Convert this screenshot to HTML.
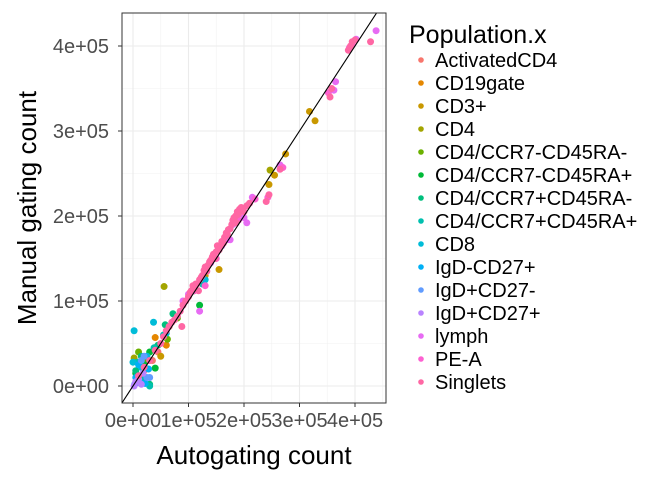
<!DOCTYPE html>
<html><head><meta charset="utf-8"><style>
body{margin:0;background:#fff}
svg{display:block;font-family:"Liberation Sans",sans-serif}
</style></head><body>
<svg id="chart" width="672" height="480">
<defs><clipPath id="pc"><rect x="122" y="13" width="264" height="390"/></clipPath></defs>
<g id="grid"></g>
<g id="marks" clip-path="url(#pc)"></g>
<rect x="122" y="13" width="264" height="390" fill="none" stroke="#333" stroke-width="1"/>
<g id="axes"></g>
<text x="254" y="464" font-size="26" text-anchor="middle" fill="#000">Autogating count</text>
<text transform="translate(36,208) rotate(-90)" font-size="26" text-anchor="middle" fill="#000">Manual gating count</text>
<g id="legend"><text x="409" y="43" font-size="25" fill="#000">Population.x</text></g>
</svg>
<script>
const populations=["ActivatedCD4","CD19gate","CD3+","CD4","CD4/CCR7-CD45RA-","CD4/CCR7-CD45RA+","CD4/CCR7+CD45RA-","CD4/CCR7+CD45RA+","CD8","IgD-CD27+","IgD+CD27-","IgD+CD27+","lymph","PE-A","Singlets"];
const colors=["#F8766D","#E58700","#C99800","#A3A500","#6BB100","#00BA38","#00BF7D","#00C0AF","#00BCD8","#00B0F6","#619CFF","#B983FF","#E76BF3","#FD61D1","#FF67A4"];
const xTicks=[0,100000,200000,300000,400000];
const yTicks=[0,100000,200000,300000,400000];
const tickLabels=["0e+00","1e+05","2e+05","3e+05","4e+05"];
// values in thousands: [autogating, manual]
const activatedCD4=[[20,18],[35,30],[45,40]];
const cd19gate=[[40,57],[60,48],[15,12]];
const cd3=[[318,323],[328,312],[275,273],[245,237],[255,248],[155,137],[50,35],[130,130]];
const cd4=[[56,117],[247,254],[110,112],[170,174],[65,70],[2,33],[30,30]];
const ccr7mRAm=[[10,40],[25,30],[40,45],[62,55],[80,80]];
const ccr7mRAp=[[120,95],[40,21],[5,15],[30,40],[20,25]];
const ccr7pRAm=[[72,85],[58,72],[15,35],[5,18],[30,2],[45,48]];
const ccr7pRAp=[[30,0],[20,8],[8,28],[38,45],[55,60],[125,120]];
const cd8=[[2,65],[37,75],[0,28],[15,22],[60,62],[25,35],[130,125]];
const igdmCd27p=[[5,10],[12,5],[22,3],[28,20],[10,25]];
const igdpCd27m=[[20,35],[25,10],[8,4],[15,30],[30,10],[3,2]];
const igdpCd27p=[[2,0],[5,5],[10,8],[15,2],[18,15]];
const lymph=[[402,408],[438,418],[365,358],[362,348],[265,260],[215,222],[200,198],[180,190],[160,165],[120,88],[90,100],[100,108],[140,145],[170,172],[205,192],[175,172]];
const peA=[[390,398],[395,402],[352,345],[270,257],[220,220],[243,222],[190,195],[110,112],[150,150],[130,118]];
const singlets=[[10,12],[20,22],[30,30],[40,42],[50,50],[55,58],[60,65],[65,70],[70,75],[75,78],[80,82],[85,88],[88,70],[90,95],[95,100],[100,105],[103,110],[105,112],[108,118],[110,115],[113,120],[115,120],[118,112],[120,125],[123,128],[125,130],[128,136],[130,140],[133,135],[135,142],[138,146],[140,148],[143,152],[145,155],[148,150],[150,158],[152,165],[155,160],[158,165],[160,170],[163,168],[165,175],[168,180],[170,178],[172,184],[175,185],[178,190],[180,195],[182,198],[185,200],[186,192],[188,205],[190,202],[192,208],[195,210],[198,206],[200,205],[205,212],[210,215],[240,217],[245,225],[265,255],[355,340],[358,350],[388,395],[392,400],[395,405],[400,407],[428,405]];
const series=[activatedCD4,cd19gate,cd3,cd4,ccr7mRAm,ccr7mRAp,ccr7pRAm,ccr7pRAp,cd8,igdmCd27p,igdpCd27m,igdpCd27p,lymph,peA,singlets];

const NS="http://www.w3.org/2000/svg";
const X=v=>133+v/100000*55.5;
const Y=v=>386-v/100000*85;
function mk(p,t,a){const e=document.createElementNS(NS,t);for(const k in a)e.setAttribute(k,a[k]);p.appendChild(e);return e;}
const grid=document.getElementById('grid'),axes=document.getElementById('axes'),marks=document.getElementById('marks'),legend=document.getElementById('legend');
mk(grid,'rect',{x:122,y:13,width:264,height:390,fill:'#fff'});
for(let i=0;i<xTicks.length;i++){
  const mx=X(xTicks[i]+50000);
  if(mx<386){const m=mk(grid,'line',{x1:mx,x2:mx,y1:13,y2:403,stroke:'#f2f2f2','stroke-width':0.6});
  
  }
  const my=Y(yTicks[i]+50000);
  if(my>13){const m=mk(grid,'line',{x1:122,x2:386,y1:my,y2:my,stroke:'#f2f2f2','stroke-width':0.6});
  
  }
}
xTicks.forEach((v,i)=>{
  const x=X(v);
  const g=mk(grid,'line',{x1:x,x2:x,y1:13,y2:403,stroke:'#ebebeb','stroke-width':1.1});
  
  
  mk(axes,'line',{x1:x,x2:x,y1:403,y2:407,stroke:'#333'});
  const t=mk(axes,'text',{x:x,y:427,'font-size':20,'text-anchor':'middle',fill:'#4d4d4d'});
  t.textContent=tickLabels[i];
  
  
});
yTicks.forEach((v,i)=>{
  const y=Y(v);
  const g=mk(grid,'line',{x1:122,x2:386,y1:y,y2:y,stroke:'#ebebeb','stroke-width':1.1});
  
  
  mk(axes,'line',{x1:118,x2:122,y1:y,y2:y,stroke:'#333'});
  const t=mk(axes,'text',{x:109,y:y+7,'font-size':20,'text-anchor':'end',fill:'#4d4d4d'});
  t.textContent=tickLabels[i];
  
  
});
series.forEach((pts,si)=>{
  pts.forEach(p=>{
    const c=mk(marks,'circle',{cx:X(p[0]*1000),cy:Y(p[1]*1000),r:3.5,fill:colors[si]});
    
    
  });
});
const d=mk(marks,'line',{x1:X(-50000),y1:Y(-50000),x2:X(500000),y2:Y(500000),stroke:'#000','stroke-width':1.1});


populations.forEach((n,i)=>{
  const y=60+i*23;
  const c=mk(legend,'circle',{cx:421,cy:y,r:2.8,fill:colors[i]});
  
  
  const t=mk(legend,'text',{x:435,y:y+7,'font-size':20,fill:'#000'});
  t.textContent=n;
  
  
});
</script>
</body></html>
